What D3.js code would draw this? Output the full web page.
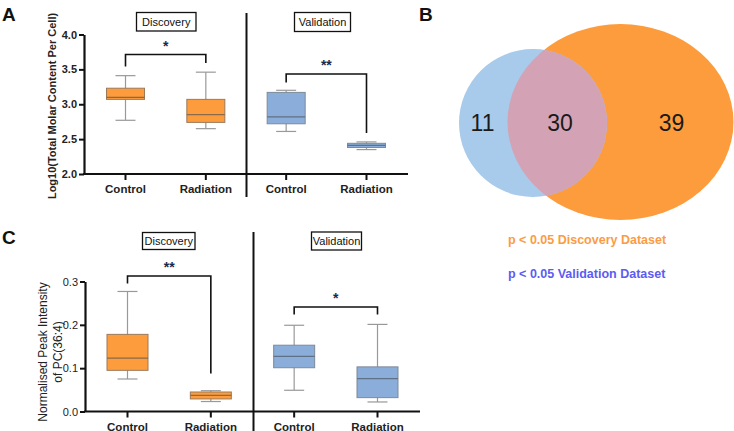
<!DOCTYPE html>
<html><head><meta charset="utf-8">
<script src="https://d3js.org/d3.v7.min.js"></script>
<style>body{margin:0;background:#fff}svg{display:block;font-family:"Liberation Sans",Arial,sans-serif}</style>
</head><body><svg id="c" width="734" height="431"></svg>
<script>
// ---- Data ----
const categories = ["Control", "Radiation"];
const groups = ["Discovery", "Validation"];
// Panel A: [min, q1, median, q3, max]
const aDiscovery = [[2.77, 3.07, 3.10, 3.23, 3.41], [2.65, 2.74, 2.85, 3.07, 3.46]];
const aValidation = [[2.61, 2.72, 2.82, 3.17, 3.20], [2.35, 2.38, 2.41, 2.44, 2.46]];
const aTicks = [2.0, 2.5, 3.0, 3.5, 4.0];
const aSig = ["*", "**"];
// Panel C
const cDiscovery = [[0.075, 0.095, 0.123, 0.178, 0.277], [0.023, 0.029, 0.037, 0.045, 0.048]];
const cValidation = [[0.049, 0.101, 0.127, 0.153, 0.199], [0.022, 0.032, 0.076, 0.103, 0.201]];
const cTicks = [0.0, 0.1, 0.2, 0.3];
const cSig = ["**", "*"];
// Panel B Venn
const vennCounts = [11, 30, 39]; // validation only, both, discovery only
const vennLabels = ["p < 0.05 Discovery Dataset", "p < 0.05 Validation Dataset"];

const svg = d3.select("#c");
const ORANGE = "#fd9c3c", BLUE = "#8badd9";

function panel(opt) {
  const g = svg.append("g");
  const y = d3.scaleLinear().domain(opt.domain).range([opt.y0, opt.y1]);
  const xs = d3.scalePoint().domain(["D0","D1","V0","V1"]).range(opt.xr);
  const ya = d3.axisLeft(y).tickValues(opt.ticks).tickFormat(d3.format(".1f")).tickSize(5).tickSizeOuter(0);
  const yg = g.append("g").attr("transform", `translate(${opt.ax},0)`).call(ya);
  yg.select(".domain").attr("stroke", "#111").attr("stroke-width", 2.2);
  yg.selectAll(".tick line").attr("stroke", "#111").attr("stroke-width", 2);
  yg.selectAll(".tick text").attr("font-size", 11).attr("font-weight", opt.boldTicks ? "bold" : "normal").attr("fill", "#222").attr("x", -7);
  g.append("line").attr("x1", opt.ax - 1).attr("x2", opt.axEnd).attr("y1", opt.y0).attr("y2", opt.y0)
    .attr("stroke", "#111").attr("stroke-width", 2.2);
  g.append("line").attr("x1", opt.div).attr("x2", opt.div).attr("y1", opt.divTop).attr("y2", opt.divBot)
    .attr("stroke", "#111").attr("stroke-width", 2);
  const keys = ["D0","D1","V0","V1"];
  const data = [opt.disc[0], opt.disc[1], opt.val[0], opt.val[1]];
  keys.forEach((k, i) => {
    const cx = xs(k);
    g.append("line").attr("x1", cx).attr("x2", cx).attr("y1", opt.y0).attr("y2", opt.y0 + 6).attr("stroke", "#111").attr("stroke-width", 2);
    g.append("text").attr("x", cx).attr("y", opt.y0 + 19).attr("text-anchor", "middle")
      .attr("font-size", 11.5).attr("font-weight", "bold").attr("fill", "#222").text(categories[i % 2]);
    const [mn, q1, md, q3, mx] = data[i];
    const bw = opt.bw, cw = 20;
    const fill = i < 2 ? ORANGE : BLUE;
    const st = i < 2 ? "#9b7a5a" : "#7d8a99";
    const mc = i < 2 ? "#8a6a4a" : "#5f7186";
    g.append("line").attr("x1", cx).attr("x2", cx).attr("y1", y(mx)).attr("y2", y(mn)).attr("stroke", "#999").attr("stroke-width", 1.2);
    g.append("line").attr("x1", cx - cw/2).attr("x2", cx + cw/2).attr("y1", y(mx)).attr("y2", y(mx)).attr("stroke", "#999").attr("stroke-width", 1.2);
    g.append("line").attr("x1", cx - cw/2).attr("x2", cx + cw/2).attr("y1", y(mn)).attr("y2", y(mn)).attr("stroke", "#999").attr("stroke-width", 1.2);
    g.append("rect").attr("x", cx - bw/2).attr("y", y(q3)).attr("width", bw).attr("height", Math.max(1, y(q1) - y(q3)))
      .attr("fill", fill).attr("stroke", st).attr("stroke-width", 1);
    g.append("line").attr("x1", cx - bw/2).attr("x2", cx + bw/2).attr("y1", y(md)).attr("y2", y(md)).attr("stroke", mc).attr("stroke-width", 1.2);
  });
  [[0, "D0", "D1"], [1, "V0", "V1"]].forEach(([gi, a, b]) => {
    const br = opt.brackets[gi];
    const x1 = xs(a), x2 = xs(b);
    g.append("path").attr("d", `M${x1},${br.l}V${br.h}H${x2}V${br.r}`).attr("fill", "none").attr("stroke", "#111").attr("stroke-width", 1.6);
    g.append("text").attr("x", (x1 + x2) / 2).attr("y", br.h - 4).attr("text-anchor", "middle").attr("font-size", 14)
      .attr("font-weight", "bold").attr("fill", "#1a2a4a").text(opt.sig[gi]);
  });
  opt.headers.forEach((h, i) => {
    g.append("rect").attr("x", h.x).attr("y", h.y).attr("width", h.w).attr("height", h.h).attr("fill", "#fff").attr("stroke", "#111").attr("stroke-width", 1.3);
    g.append("text").attr("x", h.x + h.w / 2).attr("y", h.y + h.h / 2 + 4).attr("text-anchor", "middle").attr("font-size", 11).attr("fill", "#111").text(groups[i]);
  });
  return g;
}

panel({
  domain: [2.0, 4.0], y0: 174, y1: 34.5, ticks: aTicks, ax: 84, axEnd: 408,
  xr: [125.5, 366.5], bw: 38, div: 246.5, divTop: 13, divBot: 197,
  disc: aDiscovery, val: aValidation, boldTicks: true, sig: aSig,
  brackets: [{l: 66.5, h: 54.5, r: 63}, {l: 82.5, h: 74, r: 133}],
  headers: [{x: 136.5, y: 12.5, w: 59.5, h: 18.5}, {x: 294.5, y: 12.5, w: 56, h: 19}]
});
svg.append("text").attr("transform", "rotate(-90)").attr("x", -106).attr("y", 56)
  .attr("text-anchor", "middle").attr("font-size", 11).attr("font-weight", "bold").attr("fill", "#222").text("Log10(Total Molar Content Per Cell)");

panel({
  domain: [0.0, 0.3], y0: 411.5, y1: 281.5, ticks: cTicks, ax: 85, axEnd: 420,
  xr: [127.5, 377.5], bw: 41, div: 253.5, divTop: 232, divBot: 431,
  disc: cDiscovery, val: cValidation, boldTicks: false, sig: cSig,
  brackets: [{l: 283.5, h: 276, r: 373.5}, {l: 314.5, h: 307, r: 314.5}],
  headers: [{x: 142.5, y: 232.5, w: 52.5, h: 17}, {x: 311.5, y: 232, w: 50, h: 18}]
});
const cl = svg.append("text").attr("transform", "rotate(-90)").attr("text-anchor", "middle").attr("font-size", 12).attr("fill", "#222");
cl.append("tspan").attr("x", -352).attr("y", 47).text("Normalised Peak Intensity");
cl.append("tspan").attr("x", -352).attr("y", 62).text("of PC(36:4)");

[["A", 2, 21], ["B", 419, 21], ["C", 2, 244]].forEach(([t, x, y]) =>
  svg.append("text").attr("x", x).attr("y", y).attr("font-size", 19).attr("font-weight", "bold").attr("fill", "#111").text(t));

// Venn
const vb = svg.append("g");
vb.append("ellipse").attr("cx", 620.5).attr("cy", 122).attr("rx", 113).attr("ry", 98).attr("fill", ORANGE);
vb.append("circle").attr("cx", 533).attr("cy", 123).attr("r", 74).attr("fill", "#a8caeb");
vb.append("clipPath").attr("id", "clipB").append("circle").attr("cx", 533).attr("cy", 123).attr("r", 74);
vb.append("ellipse").attr("cx", 620.5).attr("cy", 122).attr("rx", 113).attr("ry", 98).attr("fill", "#d3a3b5").attr("clip-path", "url(#clipB)");
[[482.5, vennCounts[0]], [560, vennCounts[1]], [671.5, vennCounts[2]]].forEach(([x, v]) =>
  vb.append("text").attr("x", x).attr("y", 130.5).attr("text-anchor", "middle").attr("font-size", 23).attr("fill", "#1a1a1a").text(v));
vb.append("text").attr("x", 508).attr("y", 244).attr("font-size", 12.5).attr("font-weight", "bold").attr("fill", "#fb9c45").text(vennLabels[0]);
vb.append("text").attr("x", 508).attr("y", 278).attr("font-size", 12.5).attr("font-weight", "bold").attr("fill", "#5c5cf2").text(vennLabels[1]);
</script></body></html>
